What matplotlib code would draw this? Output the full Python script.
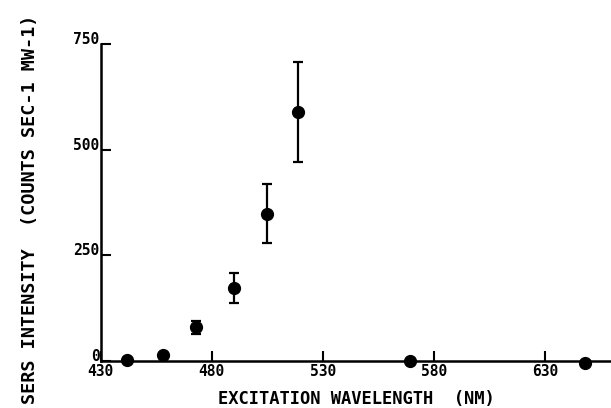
import numpy as np
import matplotlib.pyplot as plt

# SERS intensity vs excitation wavelength
wavelength = [442, 458, 473, 490, 505, 519, 569, 648]
intensity = [2, 14, 80, 173, 348, 590, 0, -4]
err_low = [0, 0, 15, 36, 68, 119, 0, 0]
err_high = [0, 0, 15, 35, 71, 118, 0, 0]

xticks = [430, 480, 530, 580, 630]
yticks = [0, 250, 500, 750]

font = {'family': 'DejaVu Sans Mono', 'weight': 'bold'}

fig = plt.figure(figsize=(6.11, 4.08), dpi=100)
ax = fig.add_axes([0.165, 0.115, 0.835, 0.777])

ax.errorbar(wavelength, intensity, yerr=[err_low, err_high], fmt='o',
            color='black', markersize=8.5, elinewidth=1.6, capsize=3.5,
            capthick=1.6, clip_on=False, zorder=3)

ax.set_xlim(430, 659.7)
ax.set_ylim(0, 750)
ax.spines['top'].set_visible(False)
ax.spines['right'].set_visible(False)
ax.spines['left'].set_linewidth(1.8)
ax.spines['bottom'].set_linewidth(1.8)

ax.set_xticks(xticks)
ax.set_yticks(yticks)
ax.set_xticklabels([str(t) for t in xticks], fontdict=font, fontsize=10.5)
ax.set_yticklabels([str(t) for t in yticks], fontdict=font, fontsize=10.5)
ax.tick_params(direction='in', length=7, width=1.5, pad=2)
ax.tick_params(axis='y', pad=1)
for lbl in ax.get_yticklabels():
    lbl.set_verticalalignment('baseline')

ax.set_xlabel('EXCITATION WAVELENGTH  (NM)', fontdict=font, fontsize=12.3,
              labelpad=8)
ax.set_ylabel('SERS INTENSITY  (COUNTS SEC-1 MW-1)', fontdict=font,
              fontsize=13.3, labelpad=27)
ax.yaxis.set_label_coords(-0.165 + 22 / 510, 0.48)

fig.savefig('out.png', dpi=100)
